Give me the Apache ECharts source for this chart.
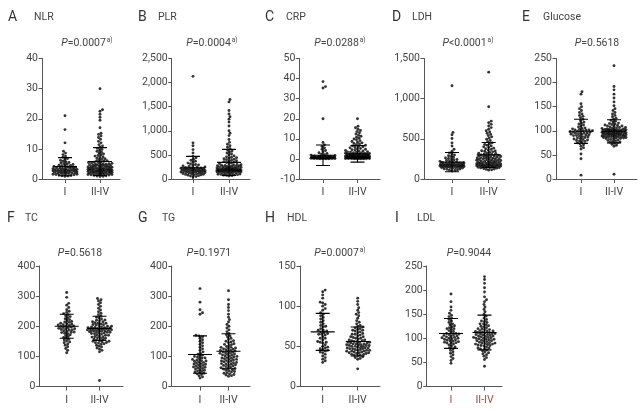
<!DOCTYPE html>
<html><head><meta charset="utf-8">
<script src="https://cdn.jsdelivr.net/npm/echarts@6/dist/echarts.min.js"></script>
<style>html,body{margin:0;padding:0;background:#fff}#c{width:642px;height:411px}</style>
</head><body><div id="c"></div>
<script>
const categories = ['I', 'II-IV'];
const panelLetters = ['A','B','C','D','E','F','G','H','I'];
const panelNames = ['NLR','PLR','CRP','LDH','Glucose','TC','TG','HDL','LDL'];
const pValues = ['0.0007','0.0004','0.0288','<0.0001','0.5618','0.5618','0.1971','0.0007','0.9044'];
const pSuper = ['a)','a)','a)','a)','','','','a)',''];
const yMin = [0,0,-10,0,0,0,0,0,0];
const yMax = [40,2500,50,1500,250,400,400,150,250];
const yStep = [10,500,10,500,50,100,100,50,50];

const nlrI = [21,16.4,12,9.2,8.6,8.1,7.6,7.2,6.8,6.5,6.2,5.9,5.7,5.5,5.3,5.1,4.9,4.8,4.6,4.5,4.3,4.2,4.0,3.9,3.8,3.7,3.6,3.5,3.4,3.3,3.2,3.1,3.0,3.0,2.9,2.8,2.7,2.7,2.6,2.5,2.5,2.4,2.3,2.2,2.2,2.1,2.0,2.0,1.9,1.8,1.8,1.7,1.6,1.5,1.4,1.3,1.2,1.1,1.0,0.9,3.5,2.8,3.1,2.4,4.4,1.6,2.9,3.6];
const nlrII = [30,23,22.5,21.5,20.5,19.5,17,15.2,14.8,14.3,13.8,13.2,12.5,12,11.4,11,10.6,10.2,9.8,9.5,9.2,8.9,8.6,8.3,8.0,7.8,7.6,7.3,7.1,6.9,6.7,6.5,6.3,6.1,5.9,5.7,5.6,5.4,5.3,5.1,5.0,4.9,4.8,4.7,4.6,4.5,4.4,4.3,4.2,4.1,4.0,3.9,3.8,3.8,3.7,3.6,3.5,3.5,3.4,3.3,3.3,3.2,3.1,3.1,3.0,3.0,2.9,2.8,2.8,2.7,2.7,2.6,2.5,2.5,2.4,2.4,2.3,2.2,2.2,2.1,2.0,2.0,1.9,1.9,1.8,1.7,1.7,1.6,1.5,1.5,1.4,1.3,1.2,1.1,1.0,0.9,0.8,4.2,3.6,2.9,5.2,4.6,3.3,2.6,6.0,1.8,3.9,4.4,2.3,5.5,3.1,4.9];
const plrI = [2130,750,690,610,540,470,440,410,390,370,350,330,310,300,290,280,270,260,250,245,240,230,225,220,215,210,205,200,195,190,185,180,175,170,165,160,158,155,150,145,140,135,130,125,120,115,110,105,100,95,90,85,80,70,60,50,40,180,210,160,140,230,190];
const plrII = [1650,1600,1420,1350,1290,1240,1180,1100,1000,950,900,820,760,720,690,660,630,600,580,560,540,520,500,480,460,450,440,430,420,410,400,390,380,370,360,350,340,330,320,310,300,295,290,285,280,275,270,265,260,255,250,245,240,235,230,225,220,215,210,205,200,198,195,192,190,188,185,182,180,178,175,172,170,168,165,162,160,158,155,152,150,148,145,140,135,130,125,120,115,110,105,100,95,90,85,80,75,70,60,210,230,250,200,190,180,220,170,260];
const crpI = [38.5,36,35.3,20,8.2,7,6.2,5.5,4.8,4.2,3.6,3.1,2.7,2.4,2.1,1.9,1.7,1.5,1.4,1.3,1.2,1.1,1.0,0.9,0.9,0.8,0.8,0.7,0.7,0.6,0.6,0.5,0.5,0.5,0.4,0.4,0.4,0.3,0.3,0.3,0.3,0.2,0.2,0.2,0.2,0.1,0.1,0.1,0.1,1.0,1.2,0.8,0.6,1.4,0.5,0.9,0.3,0.7,1.1,0.4];
const crpII = [20,16.3,15.5,14.8,14.2,13.6,13,12.4,11.8,11.3,10.8,10.3,9.9,9.5,9.1,8.7,8.3,8.0,7.7,7.4,7.1,6.8,6.5,6.2,6.0,5.7,5.5,5.2,5.0,4.8,4.6,4.4,4.2,4.0,3.8,3.6,3.4,3.3,3.1,3.0,2.8,2.7,2.6,2.4,2.3,2.2,2.1,2.0,1.9,1.8,1.7,1.6,1.5,1.5,1.4,1.3,1.3,1.2,1.1,1.1,1.0,1.0,0.9,0.9,0.8,0.8,0.7,0.7,0.7,0.6,0.6,0.6,0.5,0.5,0.5,0.4,0.4,0.4,0.3,0.3,0.3,0.3,0.2,0.2,0.2,0.2,0.1,0.1,0.1,0.1,1.2,0.9,1.6,0.5,0.8,2.2,1.4,0.6,1.0,0.3,3.5,2.5,1.8,0.7,1.1,0.4,2.9,0.2,1.3,0.8];
const ldhI = [1160,580,550,505,450,410,370,345,325,310,300,290,280,270,262,255,248,242,236,230,225,220,215,210,206,202,198,195,192,189,186,183,180,178,176,174,172,170,168,166,164,162,160,158,156,154,152,150,148,146,144,142,140,136,132,128,124,120,115,110,105,100,185,175,165,195,170];
const ldhII = [1330,900,720,700,680,660,640,620,600,585,570,555,540,525,510,495,480,465,450,440,430,420,410,400,392,384,376,368,360,352,345,338,331,324,318,312,306,300,295,290,285,280,275,270,266,262,258,254,250,246,242,238,234,230,226,222,218,214,210,207,204,201,198,195,192,189,186,183,180,178,176,174,172,170,168,166,164,162,160,158,156,154,152,150,147,144,141,138,135,130,125,120,115,110,240,260,280,220,200,300,250,230,270,190,210,320,180,170,350,290];
const gluI = [181,176,156,150,146,142,138,135,132,130,127,124,121,118,116,114,112,110,108,106,105,104,103,102,101,100,99,98,97,96,95,94,93,92,91,90,89,88,87,86,85,84,83,82,81,80,79,78,77,75,73,71,68,65,62,52,42,8,100,97,95,102,93,98,90];
const gluII = [235,192,185,176,168,160,152,146,142,138,135,132,129,126,124,122,120,118,116,115,114,113,112,111,110,109,108,107,106,105,104,104,103,103,102,102,101,101,100,100,99,99,98,98,97,97,96,96,95,95,94,94,93,93,92,92,91,91,90,90,89,89,88,88,87,87,86,86,85,85,84,83,82,81,80,79,78,77,76,75,74,72,70,68,10,100,98,96,94,92,99,101,97,95,103,105,93,91,89,107,110,88,86,84,102];
const tcI = [312,296,276,270,262,255,250,246,242,238,235,232,228,225,222,219,216,213,210,207,205,203,201,199,197,195,193,191,189,187,185,183,181,179,177,175,172,169,166,163,160,157,154,151,148,145,141,137,132,126,120,112,200,196,204,192,188,208,214,180];
const tcII = [292,288,284,278,272,266,260,254,248,243,238,234,230,227,224,221,218,215,212,210,208,206,204,202,200,198,196,195,194,193,192,191,190,189,188,187,186,185,184,183,182,181,180,178,176,174,172,170,168,166,164,162,160,158,156,154,152,150,148,146,144,142,140,137,134,131,128,124,120,115,20,190,185,195,200,180,175,205,210,170,165,188,192,198,178,160,150,215,220,145];
const tgI = [325,280,255,245,240,170,168,165,160,155,150,145,140,135,130,125,120,115,110,107,104,101,98,95,92,90,88,86,84,82,80,78,76,74,72,70,68,66,64,62,60,58,56,54,52,50,48,46,44,42,40,36,32,28,100,95,85,75,65];
const tgII = [318,288,272,262,252,240,230,222,214,206,200,194,188,182,176,172,168,164,160,156,152,148,145,142,139,136,133,130,128,126,124,122,120,118,116,114,112,110,108,106,104,102,100,98,96,94,92,90,88,86,84,82,80,78,76,74,72,70,68,66,64,62,60,58,56,54,52,50,48,46,44,42,40,38,36,34,120,110,100,90,80,130,140,70,60,150,95,85,105,115,125,75];
const hdlI = [120,118,114,110,105,104,102,100,97,95,92,90,88,86,84,82,80,78,76,74,72,70,69,68,67,66,65,64,62,60,58,56,55,54,52,50,49,48,47,46,45,44,43,42,40,38,36,34,32,30,70,65,60,55,75];
const hdlII = [110,106,102,98,95,92,90,88,85,82,80,78,76,75,74,73,72,71,70,69,68,67,66,65,64,63,62,61,60,59,58,57,56,56,55,55,54,54,53,53,52,52,51,51,50,50,49,49,48,48,47,47,46,46,45,45,44,44,43,43,42,42,41,41,40,40,39,39,38,37,36,35,34,22,55,50,60,45,58,52,48,62,57,53,47,65,70,44,42,51];
const ldlI = [192,176,165,158,152,148,145,142,139,136,133,130,128,126,124,122,120,118,116,114,112,110,109,108,107,106,105,104,103,102,101,100,99,98,97,96,95,94,93,92,91,90,88,86,84,82,80,78,75,72,69,66,62,58,54,48,110,100,120,90];
const ldlII = [228,222,214,205,196,186,180,176,170,165,160,155,150,146,142,139,136,133,130,128,126,124,122,120,118,116,115,114,113,112,111,110,109,108,107,106,105,104,103,102,101,100,99,98,97,96,95,94,93,92,91,90,89,88,87,86,85,84,82,80,78,76,74,72,70,68,66,63,60,56,42,110,112,108,115,105,100,120,95,90,125,130,85,80,135,102,118,98,88,78];

// mean and SD: [I, II-IV]
const meanI  = [4.1, 230, 1.8, 210, 99, 200, 106, 68, 110];
const sdI    = [3.0, 240, 5.1, 120, 25, 40, 62, 23, 31];
const meanII = [5.8, 345, 2.5, 300, 99, 193, 117, 56, 112];
const sdII   = [4.6, 270, 4.1, 155, 24, 40, 58, 18, 36];

const groupsI  = [nlrI, plrI, crpI, ldhI, gluI, tcI, tgI, hdlI, ldlI];
const groupsII = [nlrII, plrII, crpII, ldhII, gluII, tcII, tgII, hdlII, ldlII];

// ---------- layout (pixels) ----------
const layout = [
  {L:42,   R:120, c1:65,    c2:100,   top:58.5},
  {L:171.7,R:250, c1:193,   c2:229,   top:58.5},
  {L:299.3,R:380, c1:323,   c2:357.5, top:58.5},
  {L:424,  R:505, c1:452,   c2:488.7, top:58.5},
  {L:556,  R:637, c1:581,   c2:614,   top:58.5},
  {L:39.3, R:123, c1:66.7,  c2:99.5,  top:266},
  {L:171.7,R:250, c1:200,   c2:228.5, top:266},
  {L:300,  R:380, c1:322.7, c2:357.7, top:266},
  {L:426.7,R:502, c1:451,   c2:484.5, top:266}
];
const GH = 120.5;
const titlePos = [
  {lx:8,nx:34,ly:17,px:87,py:43},{lx:138,nx:158,ly:17,px:212,py:43},{lx:265,nx:286,ly:17,px:340,py:43},
  {lx:392,nx:412,ly:17,px:468,py:43},{lx:522,nx:543,ly:17,px:597,py:43},
  {lx:7,nx:25,ly:218,px:80,py:253},{lx:138,nx:162,ly:218,px:209,py:253},{lx:265,nx:287,ly:218,px:340,py:253},
  {lx:395,nx:417,ly:218,px:469,py:253}
];

function swarm(values, pxPerUnit, maxHalf, d) {
  const pts = values.map((v,i)=>({y:v*pxPerUnit,i}));
  pts.sort((a,b)=>a.y-b.y);
  const placed = [];
  const out = new Array(values.length);
  const steps = Math.ceil(maxHalf/0.5);
  for (const p of pts) {
    let best = 0, bestScore = -Infinity;
    for (let k=0;k<=2*steps;k++){
      const off = (k%2===1?1:-1)*Math.ceil(k/2)*0.5;
      let minD = Infinity;
      for (let j=placed.length-1;j>=0;j--){
        const q = placed[j]; const dy = p.y-q.y;
        if (dy >= d) break;
        const dd = Math.hypot(off-q.x, dy);
        if (dd < minD) minD = dd;
      }
      if (minD >= d){best = off; break;}
      if (minD > bestScore){bestScore = minD; best = off;}
    }
    p.x = best; placed.push(p); out[p.i] = best;
  }
  return out;
}
const fmt = v => String(v).replace(/\B(?=(\d{3})+(?!\d))/g, ',');
const FONT = 'Roboto, "Liberation Sans", sans-serif';

const grids=[], xAxes=[], yAxes=[], series=[], graphics=[];
layout.forEach((g,i)=>{
  const unit = g.c2-g.c1;
  const xmin = 1-(g.c1-g.L)/unit, xmax = 2+(g.R-g.c2)/unit;
  grids.push({left:g.L, top:g.top, width:g.R-g.L, height:GH});
  const labColor = i===8 ? '#a54a36' : '#444';
  xAxes.push({type:'value', gridIndex:i, min:xmin, max:xmax,
    axisLine:{show:true,onZero:false,lineStyle:{color:'#555',width:1}},
    axisTick:{show:true,customValues:[1,2],length:4,lineStyle:{color:'#555'}},
    axisLabel:{customValues:[1,2],formatter:v=>categories[Math.round(v)-1]||'',color:labColor,fontSize:10.5,fontFamily:FONT,margin:8},
    splitLine:{show:false}});
  yAxes.push({type:'value', gridIndex:i, min:yMin[i], max:yMax[i], interval:yStep[i],
    axisLine:{show:true,onZero:false,lineStyle:{color:'#555',width:1}},
    axisTick:{show:true,length:3.5,lineStyle:{color:'#555'}},
    axisLabel:{formatter:fmt,color:'#444',fontSize:10.5,fontFamily:FONT,margin:4},
    splitLine:{show:false}});
  const pxPerUnit = GH/(yMax[i]-yMin[i]);
  const xPerPx = (xmax-xmin)/(g.R-g.L);
  const pts=[];
  [groupsI[i], groupsII[i]].forEach((arr,gi)=>{
    const offs = swarm(arr, pxPerUnit, 12, 2.6);
    arr.forEach((v,k)=>pts.push([gi+1+offs[k]*xPerPx, v]));
  });
  series.push({type:'scatter', xAxisIndex:i, yAxisIndex:i, data:pts, symbolSize:2.9,
    itemStyle:{color:'#000'}, silent:true, animation:false});
  series.push({type:'custom', xAxisIndex:i, yAxisIndex:i, clip:true, animation:false, silent:true,
    data:[[1,meanI[i],sdI[i]],[2,meanII[i],sdII[i]]],
    renderItem:(params,api)=>{
      const c=api.value(0), m=api.value(1), s=api.value(2);
      const pm=api.coord([c,m]), pt=api.coord([c,m+s]), pb=api.coord([c,m-s]);
      const st={stroke:'#000',lineWidth:1.1};
      return {type:'group',children:[
        {type:'line',shape:{x1:pm[0]-12,y1:pm[1],x2:pm[0]+12,y2:pm[1]},style:st},
        {type:'line',shape:{x1:pt[0],y1:pt[1],x2:pb[0],y2:pb[1]},style:st},
        {type:'line',shape:{x1:pt[0]-7,y1:pt[1],x2:pt[0]+7,y2:pt[1]},style:st},
        {type:'line',shape:{x1:pb[0]-7,y1:pb[1],x2:pb[0]+7,y2:pb[1]},style:st}
      ]};
    }});
  const t=titlePos[i];
  graphics.push({type:'text',x:t.lx,y:t.ly,style:{text:panelLetters[i],font:'14px '+FONT,fill:'#333',verticalAlign:'middle'}});
  graphics.push({type:'text',x:t.nx,y:t.ly,style:{text:panelNames[i],font:'10.5px '+FONT,fill:'#444',verticalAlign:'middle'}});
  const pv = pValues[i];
  const txt = '{i|P}{n|'+(pv[0]==='<'?pv:'='+pv)+'}'+(pSuper[i]?'{s|'+pSuper[i]+'}':'');
  graphics.push({type:'text',x:t.px,y:t.py,style:{text:txt,align:'center',verticalAlign:'middle',
    rich:{i:{fontStyle:'italic',fontSize:10.5,fontFamily:FONT,fill:'#444'},
          n:{fontSize:10.5,fontFamily:FONT,fill:'#444'},
          s:{fontSize:6.5,fontFamily:FONT,fill:'#444',padding:[0,0,6,1]}}}});
});

const chart = echarts.init(document.getElementById('c'), null, {renderer:'canvas'});
chart.setOption({animation:false, grid:grids, xAxis:xAxes, yAxis:yAxes, series:series, graphic:graphics});
</script></body></html>
